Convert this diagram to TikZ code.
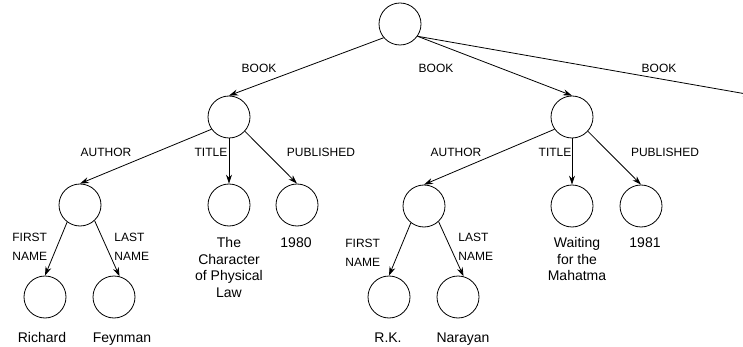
\documentclass[tikz,border=0pt]{standalone}
\usepackage{fontspec}
\setmainfont{Liberation Sans}
\usetikzlibrary{arrows.meta}

\begin{document}
\begin{tikzpicture}[>={Stealth[length=9pt,width=6pt]}, x=1pt, y=-1pt, line width=0.8pt,
  obj/.style={circle, draw, minimum size=42pt, inner sep=0pt},
  rel/.style={font=\fontsize{12}{19}\selectfont, inner sep=0pt},
  val/.style={font=\fontsize{14}{16.6}\selectfont, align=center, anchor=north, inner sep=0pt}]
  \useasboundingbox (0,0) rectangle (743,347);

  % Objects
  \node[obj] (root) at (400,24) {};
  \node[obj] (book1) at (229,117) {};
  \node[obj] (book2) at (572,117) {};
  \coordinate (book3) at (752,95);
  \node[obj] (author1) at (80,205) {};
  \node[obj] (title1) at (229,205) {};
  \node[obj] (pub1) at (297,205) {};
  \node[obj] (author2) at (424,206) {};
  \node[obj] (title2) at (572,206) {};
  \node[obj] (pub2) at (641,206) {};
  \node[obj] (first1) at (45,297) {};
  \node[obj] (last1) at (114,297) {};
  \node[obj] (first2) at (389,297) {};
  \node[obj] (last2) at (458,297) {};

  % Arcs
  \draw[->] (root.220) -- (book1.north);
  \draw[->] (root.-35) -- (book2.north);
  \draw[->] (root.-35) -- (book3);
  \draw[->] (book1.215) -- (author1.north);
  \draw[->] (book1.south) -- (title1.north);
  \draw[->] (book1.-42) -- (pub1.north);
  \draw[->] (book2.215) -- (author2.north);
  \draw[->] (book2.south) -- (title2.north);
  \draw[->] (book2.-42) -- (pub2.north);
  \draw[->] (author1.-127) -- (first1.north);
  \draw[->] (author1.-47) -- (last1.75);
  \draw[->] (author2.-128) -- (first2.north);
  \draw[->] (author2.-47) -- (last2.75);

  % Arc labels
  \node[rel] (lbook1) at (259,68) {BOOK};
  \node[rel] (lbook2) at (436,68) {BOOK};
  \node[rel] (lbook3) at (659,68) {BOOK};
  \node[rel] (lauthor1) at (106,152) {AUTHOR};
  \node[rel] (ltitle1) at (211,152) {TITLE};
  \node[rel] (lpub1) at (321,152) {PUBLISHED};
  \node[rel] (lauthor2) at (456,152) {AUTHOR};
  \node[rel] (ltitle2) at (555,152) {TITLE};
  \node[rel] (lpub2) at (665,152) {PUBLISHED};
  \node[rel, align=left, anchor=west] (lfirst1) at (12,246.5) {FIRST\\NAME};
  \node[rel, align=left, anchor=west] (llast1) at (114,246.5) {LAST\\NAME};
  \node[rel, align=left, anchor=west] (lfirst2) at (345,252.5) {FIRST\\NAME};
  \node[rel, align=left, anchor=west] (llast2) at (458,246.5) {LAST\\NAME};

  % Values
  \node[val] (vtitle1) at (229,237) {The\\Character\\of Physical\\Law};
  \node[val] (vpub1) at (296,237) {1980};
  \node[val] (vtitle2) at (577,237) {Waiting\\for the\\Mahatma};
  \node[val] (vpub2) at (645,237) {1981};
  \node[val] (vfirst1) at (42,332) {Richard};
  \node[val] (vlast1) at (122,332) {Feynman};
  \node[val] (vfirst2) at (388,332) {R.K.};
  \node[val] (vlast2) at (463,332) {Narayan};
\end{tikzpicture}
\end{document}
